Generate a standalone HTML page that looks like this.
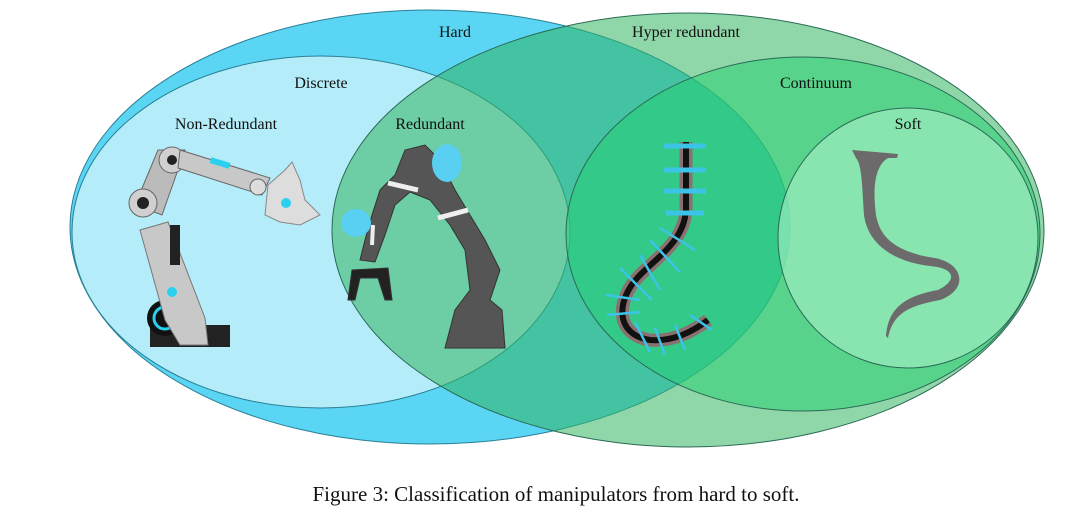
<!DOCTYPE html>
<html><head><meta charset="utf-8"><style>
html,body{margin:0;padding:0;background:#fff;}
svg{display:block;}
text{font-family:"Liberation Serif",serif;}
</style></head><body>
<svg width="1080" height="524" viewBox="0 0 1080 524" xmlns="http://www.w3.org/2000/svg">
<rect width="1080" height="524" fill="#fff"/>
<ellipse cx="430" cy="227" rx="360" ry="217" fill="#5ad6f4" stroke="#2a7f95" stroke-width="1"/>
<ellipse cx="321" cy="232" rx="249" ry="176" fill="#b4ecf9" stroke="#2a7f95" stroke-width="1"/>
<ellipse cx="688" cy="230" rx="356" ry="217" fill="#33b460" fill-opacity="0.55" stroke="#2a6a55" stroke-width="1"/>
<ellipse cx="803" cy="234" rx="237" ry="177" fill="#22d070" fill-opacity="0.5" stroke="#2a6a55" stroke-width="1"/>
<ellipse cx="908" cy="238" rx="130" ry="130" fill="#a8f2c6" fill-opacity="0.6" stroke="#2a6a55" stroke-width="1"/>

<!-- Non-redundant robot -->
<g>
<rect x="150" y="325" width="80" height="22" fill="#222"/>
<circle cx="165" cy="318" r="18" fill="#111"/><circle cx="165" cy="318" r="11" fill="none" stroke="#2ad0f0" stroke-width="3"/>
<polygon points="140,230 168,222 205,318 208,345 180,345 165,320" fill="#c8c8c8" stroke="#777"/>
<rect x="170" y="225" width="10" height="40" fill="#222"/>
<circle cx="172" cy="292" r="5" fill="#2ad0f0"/>
<polygon points="135,205 158,150 185,150 162,215" fill="#bbb" stroke="#666"/>
<circle cx="143" cy="203" r="14" fill="#d0d0d0" stroke="#666"/><circle cx="143" cy="203" r="6" fill="#222"/>
<circle cx="172" cy="160" r="13" fill="#d0d0d0" stroke="#666"/><circle cx="172" cy="160" r="5" fill="#222"/>
<polygon points="180,150 270,178 262,195 178,168" fill="#c8c8c8" stroke="#666"/>
<rect x="210" y="160" width="20" height="6" fill="#2ad0f0" transform="rotate(17 220 163)"/>
<circle cx="258" cy="187" r="8" fill="#ddd" stroke="#666"/>
<path d="M268,185 L285,170 L292,162 L300,180 L305,200 L320,215 L300,225 L280,222 L265,215 Z" fill="#ddd" stroke="#888"/>
<circle cx="286" cy="203" r="5" fill="#2ad0f0"/>
</g>

<!-- Redundant robot -->
<g fill="#555" stroke="#333" stroke-width="1">
<path d="M445,348 L505,348 L502,310 L490,300 L500,270 L485,240 L470,215 L455,190 L440,160 L425,145 L405,150 L395,175 L380,190 L372,215 L365,240 L360,260 L375,262 L385,235 L395,205 L410,192 L430,200 L450,225 L465,250 L470,290 L455,310 Z"/>
<path d="M352,270 L348,300 L355,300 L360,278 L378,278 L385,300 L392,300 L388,268 Z" fill="#222"/>
</g>
<ellipse cx="447" cy="163" rx="15" ry="19" fill="#59d0f2"/>
<ellipse cx="356" cy="223" rx="15" ry="14" fill="#59d0f2"/>
<path d="M388,183 L418,190" stroke="#eee" stroke-width="5"/>
<path d="M438,218 L468,210" stroke="#eee" stroke-width="5"/>
<path d="M373,225 L372,245" stroke="#eee" stroke-width="4"/>

<!-- Continuum robot -->
<g fill="none">
<path d="M686,142 L686,210 C684,240 660,255 640,275 C615,300 615,335 650,340 C675,342 695,330 708,320" stroke="#8a7070" stroke-width="13"/>
<path d="M686,142 L686,210 C684,240 660,255 640,275 C615,300 615,335 650,340 C675,342 695,330 708,320" stroke="#111" stroke-width="6"/>
</g>
<g stroke="#3cc4e8" stroke-width="5">
<line x1="664" y1="146" x2="706" y2="146"/><line x1="664" y1="170" x2="706" y2="170"/>
<line x1="664" y1="191" x2="706" y2="191"/><line x1="666" y1="213" x2="704" y2="213"/>
</g>
<g stroke="#3cc4e8" stroke-width="2.5">
<line x1="660" y1="228" x2="695" y2="250"/><line x1="650" y1="240" x2="680" y2="272"/>
<line x1="640" y1="255" x2="660" y2="290"/><line x1="620" y1="268" x2="652" y2="300"/>
<line x1="606" y1="295" x2="640" y2="300"/><line x1="607" y1="315" x2="640" y2="312"/>
<line x1="635" y1="322" x2="650" y2="352"/><line x1="655" y1="328" x2="665" y2="355"/>
<line x1="675" y1="325" x2="685" y2="350"/><line x1="690" y1="315" x2="712" y2="330"/>
</g>

<!-- Soft robot -->
<path d="M852,150 L898,154 L897,158 L888,158 C876,165 872,185 876,215 C880,240 900,253 935,258 C965,264 968,290 940,300 C915,305 893,310 888,338 L886,336 C888,305 910,295 938,290 C958,280 955,268 930,266 C895,262 868,245 864,215 C862,185 862,165 856,158 Z" fill="#6c6a6a"/>

<g font-size="16" fill="#111">
<text x="455" y="37" text-anchor="middle">Hard</text>
<text x="686" y="37" text-anchor="middle">Hyper redundant</text>
<text x="321" y="88" text-anchor="middle">Discrete</text>
<text x="816" y="88" text-anchor="middle">Continuum</text>
<text x="226" y="129" text-anchor="middle">Non-Redundant</text>
<text x="430" y="129" text-anchor="middle">Redundant</text>
<text x="908" y="129" text-anchor="middle">Soft</text>
</g>
<text x="556" y="501" text-anchor="middle" font-size="21" fill="#111">Figure 3: Classification of manipulators from hard to soft.</text>
</svg>
</body></html>
